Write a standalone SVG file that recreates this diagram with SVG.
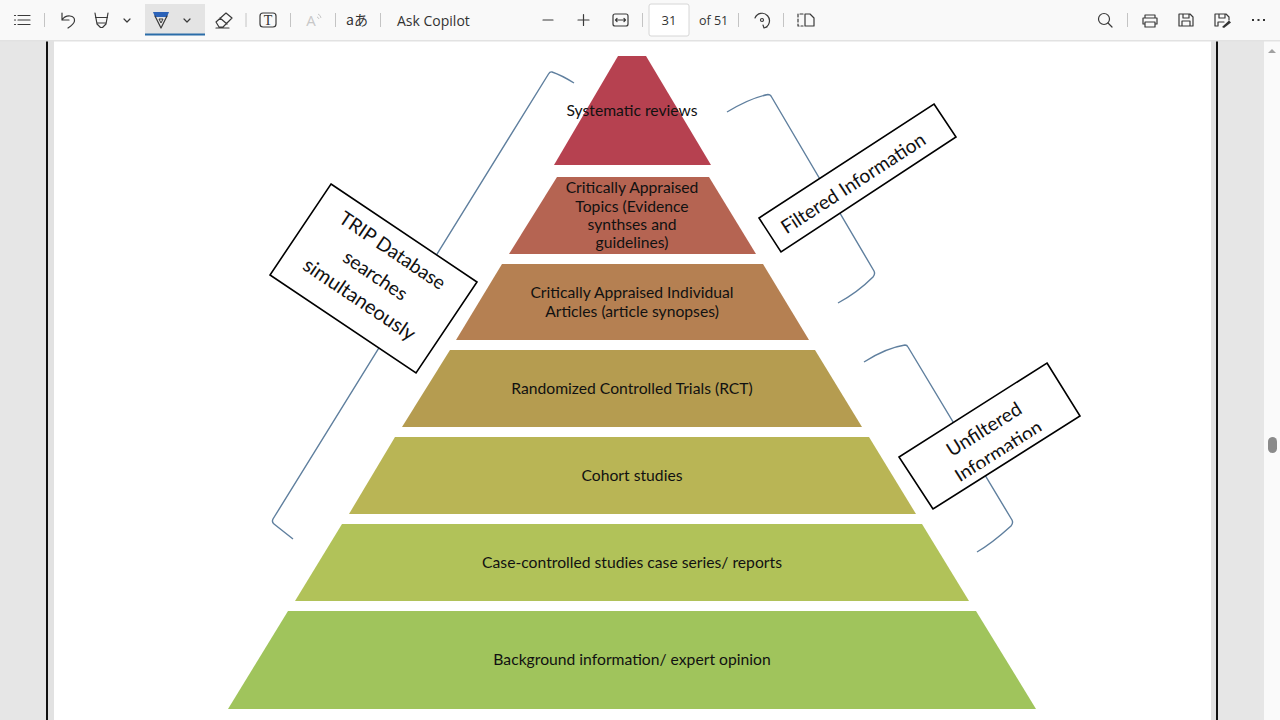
<svg xmlns="http://www.w3.org/2000/svg" width="1280" height="720" viewBox="0 0 1280 720">
<style>
.lbl{font-family:"Lato","Open Sans",sans-serif;font-size:15.7px;fill:#111;text-anchor:middle}
.box{fill:#fff;stroke:#000;stroke-width:1.6}
.rot{font-family:"Lato","Open Sans",sans-serif;font-size:19.2px;fill:#111;text-anchor:middle}
.br{fill:none;stroke:#5f7f9e;stroke-width:1.4}
.ic{fill:none;stroke:#3a3a3a;stroke-width:1.2;stroke-linecap:round;stroke-linejoin:round}
.sep{stroke:#c4c4c4;stroke-width:1}
.tb{font-family:"Open Sans","Noto Sans",sans-serif;font-size:13px;fill:#333}
</style>
<defs>
<clipPath id="uc"><polygon points="1047,363 1080,410 1045,428.500 958,483.500 920,507 899,457"/></clipPath>
</defs>
<rect width="1280" height="720" fill="#fff"/>
<g id="chrome">
<rect x="0" y="40" width="46" height="680" fill="#e6e6e6"/>
<rect x="48" y="40" width="6" height="680" fill="#e2e2e2"/>
<rect x="46" y="40" width="2" height="680" fill="#111"/>
<rect x="1211" y="40" width="5" height="680" fill="#e2e2e2"/>
<rect x="1216" y="40" width="2" height="680" fill="#111"/>
<rect x="1218" y="40" width="46" height="680" fill="#e6e6e6"/>
<rect x="1264" y="40" width="16" height="680" fill="#fafafa"/>
<polygon points="1268,53 1276,53 1272,49" fill="#a0a0a0"/>
<rect x="1268" y="437" width="9" height="16" rx="4.500" fill="#8a8a8a"/>
<rect x="0" y="0" width="1280" height="40" fill="#f9f9f9"/>
<rect x="0" y="40" width="1280" height="1.500" fill="#e2e2e2"/>
</g>
<g id="toolbar">
<rect x="145" y="4" width="60" height="31" fill="#e4e4e4"/>
<rect x="145" y="33.500" width="60" height="2" fill="#2a6ca8"/>
<rect x="649" y="4" width="40" height="32" rx="2" fill="#fff" stroke="#d6d6d6"/>
<path class="ic" d="M18 15.500H30M18 20H30M18 24.500H30M14.500 15.500h1M14.500 20h1M14.500 24.500h1"/>
<path class="ic" d="M62 13V20H69M62 20C66 14 75 15 74.500 21C74 24 71 26 68 28"/>
<path class="ic" d="M95 13L97 24L100.500 27.500H102.500L106 24L108 13M95.500 17.500H107.500M97 23H106"/>
<path class="ic" d="M124 19l3 3l3-3M184 19l3 3l3-3"/>
<path d="M153 12H169L167 17H155Z" fill="#2b62b8"/>
<path class="ic" d="M155 16L161 28L167 16"/>
<path d="M159 19H163L161 23Z" fill="none" stroke="#3a3a3a"/>
<path class="ic" d="M216 22L226 13L232 18L223 27H219ZM220 18L227 24M216 28H229"/>
<rect class="ic" x="260" y="13" width="16" height="14" rx="3"/>
<text x="268" y="25" text-anchor="middle" font-family="Liberation Serif,serif" font-size="14" fill="#333">T</text>
<text x="311" y="26" text-anchor="middle" font-family="Open Sans,sans-serif" font-size="15" fill="#c8c8c8">A</text>
<path d="M318 14a5 5 0 0 1 3 4M317 17a3 3 0 0 1 2 2" fill="none" stroke="#c8c8c8"/>
<text x="357" y="25" text-anchor="middle" font-family="Noto Sans CJK JP,sans-serif" font-size="14" fill="#333">aあ</text>
<text class="tb" x="397" y="25.500" style="font-size:14px">Ask Copilot</text>
<path class="ic" d="M543 20H553M578 20H589M583.500 14.500V25.500"/>
<rect class="ic" x="613" y="14" width="15" height="12" rx="2"/>
<path class="ic" d="M616 20H625M617 18.500L615.500 20L617 21.500M624 18.500L625.500 20L624 21.500"/>
<text class="tb" x="669" y="25" text-anchor="middle">31</text>
<text class="tb" x="699" y="25" style="font-size:12.500px">of 51</text>
<path class="ic" d="M755 18A7.500 7.500 0 1 1 764 28M764 28l-1-3M764 28l3-1"/>
<circle class="ic" cx="762" cy="20" r="1.500"/>
<path class="ic" stroke-dasharray="3 2" d="M803 14H798V26H803"/>
<path class="ic" d="M805 14H810L814 18V26H805Z"/>
<circle class="ic" cx="1104" cy="19" r="5.500"/>
<path class="ic" d="M1108 23L1112 27"/>
<path class="ic" d="M1145 18V15H1155V18M1143 18H1157V24H1155M1145 24H1143V18M1145 22H1155V27H1145Z"/>
<path class="ic" d="M1179 14H1190L1193 17V26H1179ZM1183 14V18H1189V14M1182 26V21H1190V26"/>
<path class="ic" d="M1217 26H1215V14H1226L1229 17V20M1219 14V18H1225V14M1218 26V22H1224"/>
<path d="M1222 27L1229 20.500L1231 22.500L1224 28Z" fill="#333"/>
<path d="M1252 20h2M1257.500 20h2M1263 20h2" stroke="#333" stroke-width="2"/>
<path class="sep" d="M44.500 13V27M246 13V27M290.500 13V27M335.500 13V27M380.500 13V27M642.500 13V27M738.500 13V27M783.500 13V27M1127.500 13V27"/>
</g>
<g id="connectors">
<path class="br" d="M574 83C566 78 558 74 552 72Q550 71.500 548.500 74L273 519Q271.500 522 274 524L293 539"/>
<path class="br" d="M727 112C742 103 755 97 768 94.500Q770 94.500 771 96L874 271Q875.500 274 873 277C862 288 851 296 838 303"/>
<path class="br" d="M864 362C878 353 892 347 905 345Q907 345 908 347L1012 520Q1013.500 523 1011 526C1000 536 989 545 977 552"/>
</g>
<g id="level-1"><polygon points="618,56 646,56 711,165 554,165" fill="#b64150"/><text class="lbl" x="632" y="115.500">Systematic reviews</text></g>
<g id="level-2"><polygon points="557,177 709,177 756,254 509,254" fill="#b56452"/>
<text class="lbl" x="632" y="192.500">Critically Appraised</text><text class="lbl" x="632" y="211.500">Topics (Evidence</text><text class="lbl" x="632" y="229.500">synthses and</text><text class="lbl" x="632" y="248">guidelines)</text></g>
<g id="level-3"><polygon points="502,264 763,264 809,340 456,340" fill="#b58052"/>
<text class="lbl" x="632" y="297.500">Critically Appraised Individual</text><text class="lbl" x="632" y="316.500">Articles (article synopses)</text></g>
<g id="level-4"><polygon points="450,350 815,350 862,427 402,427" fill="#b59c50"/><text class="lbl" x="632" y="393.500">Randomized Controlled Trials (RCT)</text></g>
<g id="level-5"><polygon points="395,437 869,437 916,514 349,514" fill="#b9b555"/><text class="lbl" x="632" y="480.500">Cohort studies</text></g>
<g id="level-6"><polygon points="342,524 922,524 969,601 295,601" fill="#b1c259"/><text class="lbl" x="632" y="567.500">Case-controlled studies case series/ reports</text></g>
<g id="level-7"><polygon points="288,611 976,611 1036,709 228,709" fill="#a0c45c"/><text class="lbl" x="632" y="664.500">Background information/ expert opinion</text></g>
<g id="trip-box"><polygon class="box" points="331,184 477,282 416,373 270,275"/>
<text class="rot" transform="translate(388.700 256) rotate(34)">TRIP Database</text>
<text class="rot" transform="translate(371.600 281) rotate(34)">searches</text>
<text class="rot" transform="translate(355.600 305) rotate(34)" style="font-size:20px">simultaneously</text></g>
<g id="filtered-box"><polygon class="box" points="934,104 956,137 781,252 759,218"/>
<text class="rot" transform="translate(853 183) rotate(-33) translate(0 7)">Filtered Information</text></g>
<g id="unfiltered-box"><polygon class="box" points="1047,363 1080,416 933,509 899,457"/>
<g clip-path="url(#uc)">
<text class="rot" transform="translate(987.500 435) rotate(-32)">Unfiltered</text>
<text class="rot" transform="translate(1002 457) rotate(-32)">Information</text></g></g>
</svg>
